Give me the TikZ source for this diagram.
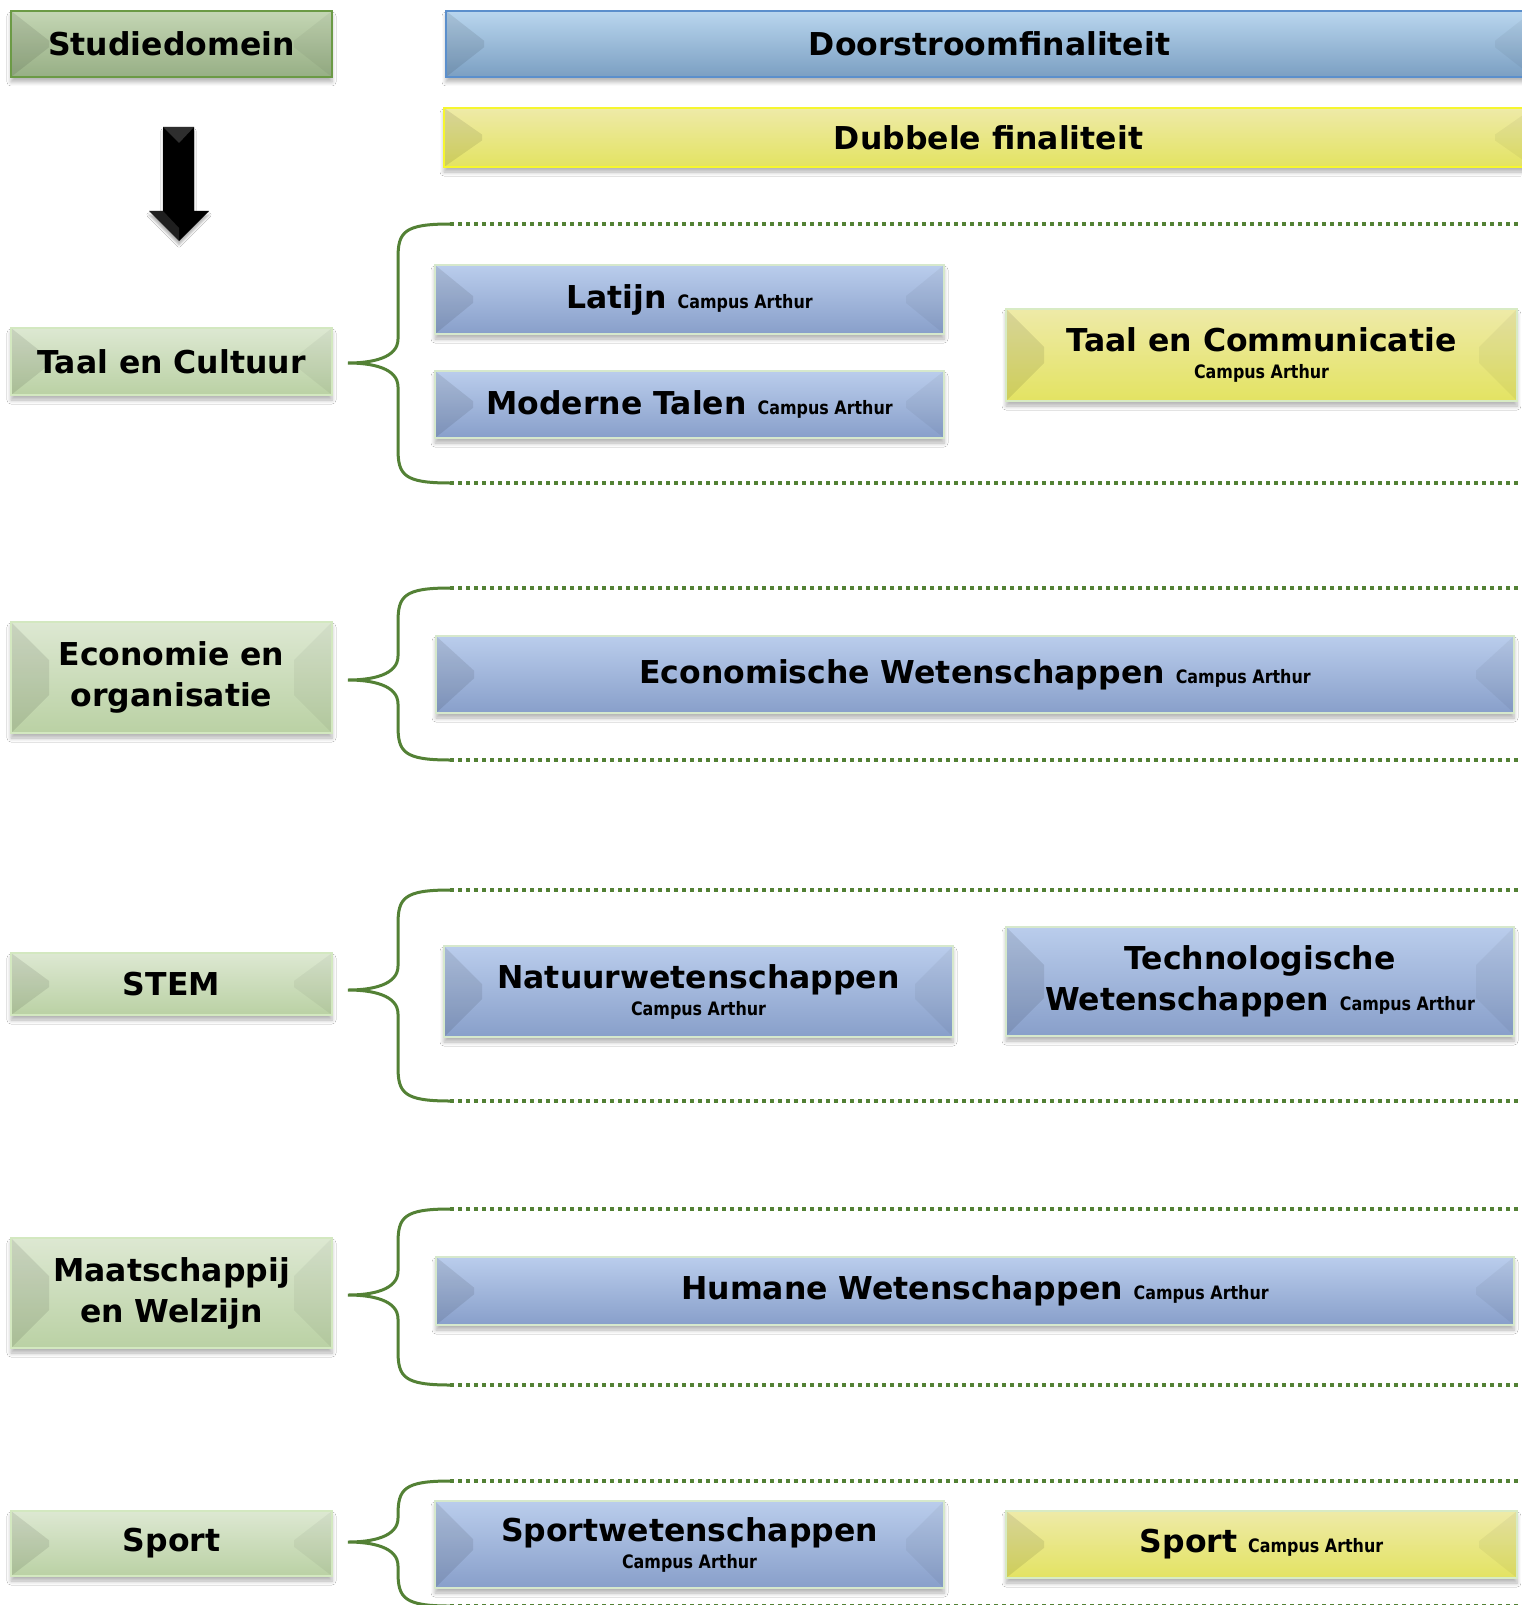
\documentclass[tikz,border=0pt]{standalone}
\usepackage{fontspec}
\setmainfont{DejaVu Sans}
\newfontfamily\cmpfam[FakeStretch=0.86]{DejaVu Sans}
\usetikzlibrary{shadows.blur,calc}
\newcommand\bigf{\fontsize{31.5}{41}\bfseries\selectfont}
\newcommand\cmp{\cmpfam\fontsize{18.5}{22}\bfseries\selectfont}
\definecolor{hgborder}{HTML}{6B9A45}
\definecolor{hgtop}{HTML}{C4D6B4}
\definecolor{hgmid}{HTML}{A0B78E}
\definecolor{hgbot}{HTML}{97AF85}
\definecolor{dgborder}{HTML}{D3E8C0}
\definecolor{dgtop}{HTML}{DDE8D2}
\definecolor{dgmid}{HTML}{C3D7AF}
\definecolor{dgbot}{HTML}{BAD1A4}
\definecolor{hbborder}{HTML}{5B8FCC}
\definecolor{hbtop}{HTML}{B9D6EE}
\definecolor{hbmid}{HTML}{8FB0D2}
\definecolor{hbbot}{HTML}{7B9FC2}
\definecolor{pbborder}{HTML}{D6E8CC}
\definecolor{pbtop}{HTML}{BACDEC}
\definecolor{pbmid}{HTML}{96ACD5}
\definecolor{pbbot}{HTML}{889FCA}
\definecolor{yborder}{HTML}{F6F62E}
\definecolor{ypborder}{HTML}{D8EBC4}
\definecolor{ytop}{HTML}{EEEAA8}
\definecolor{ymid}{HTML}{E6E474}
\definecolor{ybot}{HTML}{E3E362}
\definecolor{bracegreen}{HTML}{538135}
\tikzset{
  bevel/.style={path picture={
    \fill[black,opacity=0.09] let \p1=(path picture bounding box.north west),
      \p2=(path picture bounding box.south east),
      \n1={min(38pt,0.45*(\y1-\y2))} in
      (\x1,\y1) -- (\x1+38pt,\y1-\n1*1pt) -- (\x1+38pt,\y2+\n1*1pt) -- (\x1,\y2) -- cycle;
    \fill[black,opacity=0.045] let \p1=(path picture bounding box.north west),
      \p2=(path picture bounding box.south east),
      \n1={min(38pt,0.45*(\y1-\y2))} in
      (\x2,\y1) -- (\x2-38pt,\y1-\n1*1pt) -- (\x2-38pt,\y2+\n1*1pt) -- (\x2,\y2) -- cycle;
  }},
  boxbase/.style={draw, line width=2pt, inner sep=0pt, align=center, font=\bigf, text=black,
    blur shadow={shadow xshift=0pt, shadow yshift=-5pt, shadow blur steps=6,
      shadow opacity=30, shadow blur radius=4pt}, bevel},
  hdrgreen/.style={boxbase, draw=hgborder, top color=hgtop, middle color=hgmid, bottom color=hgbot},
  domgreen/.style={boxbase, draw=dgborder, top color=dgtop, middle color=dgmid, bottom color=dgbot},
  hdrblue/.style={boxbase, draw=hbborder, top color=hbtop, middle color=hbmid, bottom color=hbbot},
  progblue/.style={boxbase, draw=pbborder, top color=pbtop, middle color=pbmid, bottom color=pbbot},
  hdryellow/.style={boxbase, draw=yborder, top color=ytop, middle color=ymid, bottom color=ybot},
  progyellow/.style={boxbase, draw=ypborder, top color=ytop, middle color=ymid, bottom color=ybot},
  bracepath/.style={draw=bracegreen, line width=3pt},
  dotline/.style={draw=bracegreen, line width=3.5pt, dash pattern=on 4pt off 4pt},
}
\newcommand\bx[7]{%
  \node[#1, minimum width={(#5-#3)*1pt}, minimum height={(#6-#4)*1pt}] (#2)
    at ({(#3+#5)/2},{(#4+#6)/2}) {#7};}
\newcommand\brc[4]{%
  \coordinate (#1t) at (450,#2);
  \coordinate (#1b) at (450,#4);
  \coordinate (#1m) at (348,#3);
  \draw[bracepath] (#1t) .. controls (404,#2) and (398,#2+8) .. (398,#2+34)
    -- (398,#3-24) .. controls (398,#3-5) and (372,#3) .. (#1m)
    .. controls (372,#3) and (398,#3+5) .. (398,#3+24)
    -- (398,#4-34) .. controls (398,#4-8) and (404,#4) .. (#1b);
  \draw[dotline] (#1t) -- ++(1100,0);
  \draw[dotline] (#1b) -- ++(1100,0);}
\begin{document}
\begin{tikzpicture}[x=1pt,y=-1pt]
\useasboundingbox (0,0) rectangle (1521,1605);
\fill[white] (0,0) rectangle (1521,1605);
% headers
\bx{hdrgreen}{studie}{11}{11}{332}{77}{Studiedomein}
\bx{hdrblue}{doorstroom}{446}{11}{1533}{77}{Doorstroomfinaliteit}
\bx{hdryellow}{dubbel}{444}{108}{1533}{167}{Dubbele finaliteit}
% arrow
\fill[black, blur shadow={shadow xshift=0pt, shadow yshift=-4pt, shadow opacity=30}]
  (163,127) -- (194,127) -- (194,211) -- (209,211) -- (179,241) -- (149,211) -- (163,211) -- cycle;
\fill[white,opacity=0.18] (163,127) -- (194,127) -- (179,143) -- cycle;
\fill[white,opacity=0.12] (149,211) -- (163,211) -- (179,228) -- (179,241) -- cycle;
% braces
\brc{b1}{224}{363}{483}
\brc{b2}{588}{680}{760}
\brc{b3}{890}{990}{1101}
\brc{b4}{1209}{1295}{1385}
\brc{b5}{1481}{1542}{1606}
% domains
\bx{domgreen}{taalcult}{11}{328}{332}{395}{Taal en Cultuur}
\bx{domgreen}{econ}{11}{622}{332}{733}{Economie en\\organisatie}
\bx{domgreen}{stem}{11}{953}{332}{1015}{STEM}
\bx{domgreen}{maat}{11}{1238}{332}{1348}{Maatschappij\\en Welzijn}
\bx{domgreen}{sport}{11}{1511}{332}{1576}{Sport}
% programmes
\bx{progblue}{latijn}{435}{265}{944}{334}{Latijn {\cmp Campus Arthur}}
\bx{progblue}{moderne}{435}{371}{944}{438}{Moderne Talen {\cmp Campus Arthur}}
\bx{progyellow}{taalcomm}{1006}{309}{1517}{401}{Taal en Communicatie\\[-14pt]{\cmp Campus Arthur}}
\bx{progblue}{econw}{436}{636}{1514}{713}{Economische Wetenschappen {\cmp Campus Arthur}}
\bx{progblue}{natuur}{444}{946}{953}{1037}{Natuurwetenschappen\\[-14pt]{\cmp Campus Arthur}}
\bx{progblue}{techno}{1006}{927}{1514}{1036}{Technologische\\Wetenschappen {\cmp Campus Arthur}}
\bx{progblue}{humane}{436}{1257}{1514}{1325}{Humane Wetenschappen {\cmp Campus Arthur}}
\bx{progblue}{sportw}{435}{1501}{944}{1588}{Sportwetenschappen\\[-14pt]{\cmp Campus Arthur}}
\bx{progyellow}{sporty}{1006}{1511}{1517}{1578}{Sport {\cmp Campus Arthur}}
\end{tikzpicture}
\end{document}
